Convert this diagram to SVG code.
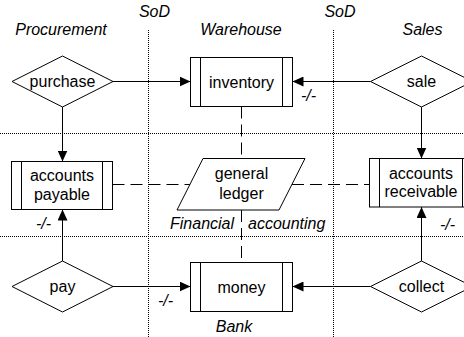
<svg xmlns="http://www.w3.org/2000/svg" width="464" height="337" viewBox="0 0 464 337">
<style>
text{font-family:"Liberation Sans",Arial,sans-serif;font-size:16px;fill:#000}
.it{font-style:italic}
.c{text-anchor:middle}
.shape{fill:#fff;stroke:#000;stroke-width:1}
.ln{fill:none;stroke:#000;stroke-width:1}
.dot{fill:none;stroke:#000;stroke-width:1;stroke-dasharray:1 1}
.dash{fill:none;stroke:#000;stroke-width:1;stroke-dasharray:12 6}
.arr{fill:none;stroke:#000;stroke-width:1;marker-end:url(#ah)}
</style>
<defs>
<marker id="ah" markerUnits="userSpaceOnUse" markerWidth="11" markerHeight="10" refX="11" refY="5" orient="auto">
<path d="M0,0 L11,5 L0,10 Z" fill="#000"/>
</marker>
</defs>
<rect width="464" height="337" fill="#fff"/>
<g id="swimlanes">
<path class="dot" d="M148.5,30 V337 M333.5,30 V337 M0,133.5 H464 M0,236.5 H464"/>
</g>
<g id="labels">
<text class="it c" x="61" y="35">Procurement</text>
<text class="it c" x="154.5" y="16.5">SoD</text>
<text class="it c" x="241" y="35">Warehouse</text>
<text class="it c" x="340" y="16.5">SoD</text>
<text class="it c" x="422.5" y="35">Sales</text>
<text class="it" x="170" y="228.5">Financial</text>
<text class="it" x="248" y="228.5">accounting</text>
<text class="it c" x="234" y="331.5">Bank</text>
<text class="it" x="301" y="101">-/-</text>
<text class="it" x="36" y="229">-/-</text>
<text class="it" x="440" y="230">-/-</text>
<text class="it" x="158" y="306">-/-</text>
</g>
<g id="connectors">
<path class="dash" d="M241.5,106.5 V158.5 M241.5,210 V262.5 M112.5,184.5 H190 M292,184.5 H369.5"/>
<path class="arr" d="M113,81.5 H190.5"/>
<path class="arr" d="M370.5,81.5 H292.5"/>
<path class="arr" d="M62.5,107 V161.5"/>
<path class="arr" d="M421.5,107 V158.5"/>
<path class="arr" d="M62.5,261 V209.5"/>
<path class="arr" d="M421.5,261 V207"/>
<path class="arr" d="M113,286.5 H190.5"/>
<path class="arr" d="M370.5,286.5 H292.5"/>
</g>
<g id="purchase">
<polygon class="shape" points="12,81.5 62.5,56 113,81.5 62.5,107"/>
<text class="c" x="62.5" y="87">purchase</text>
</g>
<g id="inventory">
<rect class="shape" x="190.5" y="57.5" width="102" height="49"/>
<path class="ln" d="M200.5,57.5 V106.5 M282.5,57.5 V106.5"/>
<text class="c" x="241.5" y="87.5">inventory</text>
</g>
<g id="sale">
<polygon class="shape" points="370.5,81.5 421.5,56 472.5,81.5 421.5,107"/>
<text class="c" x="421.5" y="87">sale</text>
</g>
<g id="accounts-payable">
<rect class="shape" x="11.5" y="161.5" width="101" height="48"/>
<path class="ln" d="M21.5,161.5 V209.5 M102.5,161.5 V209.5"/>
<text class="c" x="62" y="180.5">accounts</text>
<text class="c" x="62" y="199.5">payable</text>
</g>
<g id="general-ledger">
<polygon class="shape" points="203,158.5 305,158.5 279,210 177,210"/>
<text class="c" x="241.5" y="178.5">general</text>
<text class="c" x="241.5" y="198.5">ledger</text>
</g>
<g id="accounts-receivable">
<rect class="shape" x="369.5" y="158.5" width="103" height="48.5"/>
<path class="ln" d="M379.5,158.5 V207 M462.5,158.5 V207"/>
<text class="c" x="421" y="178.5">accounts</text>
<text class="c" x="421" y="197">receivable</text>
</g>
<g id="pay">
<polygon class="shape" points="12,286.5 62.5,261 113,286.5 62.5,312"/>
<text class="c" x="62.5" y="292">pay</text>
</g>
<g id="money">
<rect class="shape" x="190.5" y="262.5" width="102" height="49"/>
<path class="ln" d="M200.5,262.5 V311.5 M282.5,262.5 V311.5"/>
<text class="c" x="241.5" y="292.5">money</text>
</g>
<g id="collect">
<polygon class="shape" points="370.5,286.5 421.5,261 472.5,286.5 421.5,312"/>
<text class="c" x="421.5" y="292">collect</text>
</g>
</svg>
